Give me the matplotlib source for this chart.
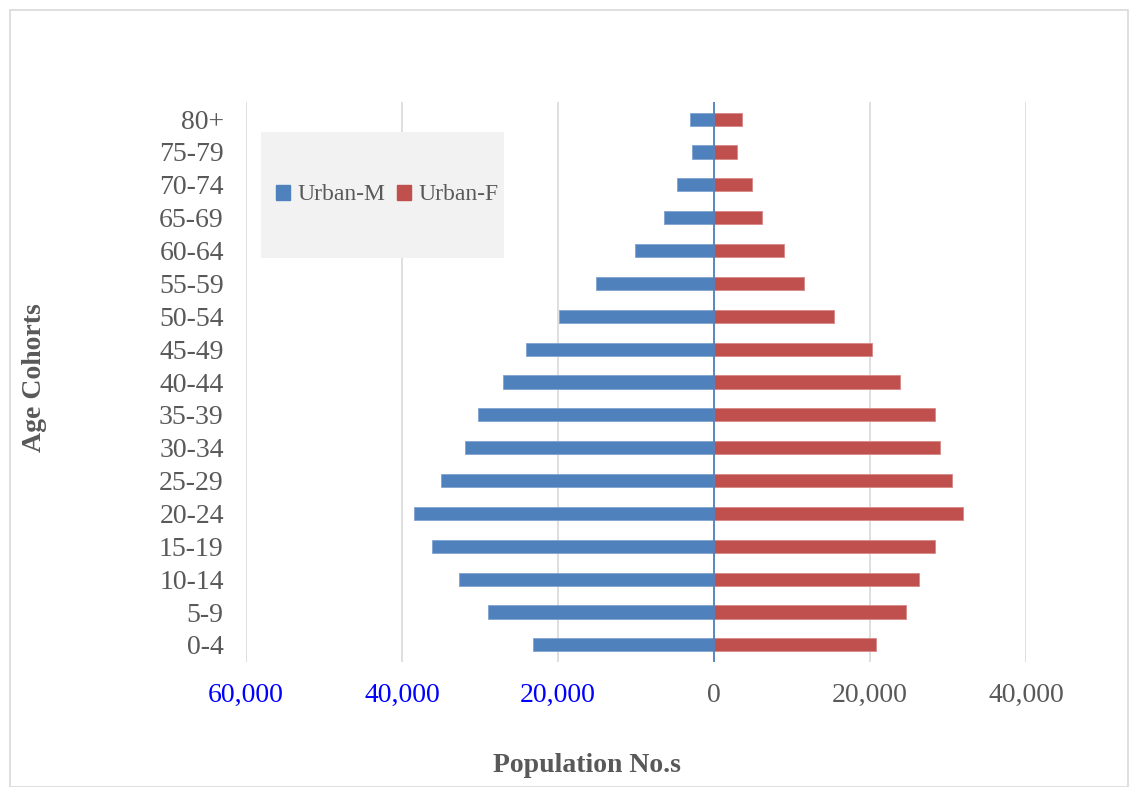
import matplotlib
matplotlib.use("Agg")
import matplotlib.pyplot as plt
from matplotlib.patches import Rectangle, Patch
import numpy as np

age_groups = ["0-4", "5-9", "10-14", "15-19", "20-24", "25-29", "30-34", "35-39",
              "40-44", "45-49", "50-54", "55-59", "60-64", "65-69", "70-74", "75-79", "80+"]
urban_m = [23200, 29000, 32700, 36200, 38500, 35000, 31900, 30300,
           27100, 24100, 19900, 15100, 10100, 6400, 4700, 2800, 3100]
urban_f = [20800, 24600, 26300, 28300, 31900, 30500, 29000, 28300,
           23800, 20300, 15400, 11500, 9000, 6200, 4900, 2900, 3600]
x_ticks = [-60000, -40000, -20000, 0, 20000, 40000]
x_tick_labels = ["60,000", "40,000", "20,000", "0", "20,000", "40,000"]

plt.rcParams['font.family'] = ['Liberation Serif', 'DejaVu Serif']

W, H = 1129, 787
fig = plt.figure(figsize=(W / 100, H / 100), dpi=100)
fig.patch.set_facecolor("white")

# outer chart border
fig.patches.append(Rectangle((10 / W, 0), (W - 11) / W, (H - 10) / H, transform=fig.transFigure,
                             fill=False, edgecolor="#D9D9D9", linewidth=1.2))

ax = fig.add_axes([246 / W, 1 - 662 / H, (1026 - 246) / W, (662 - 102) / H])
y = np.arange(len(age_groups))
blue = "#4F81BD"
red = "#C0504D"
ax.barh(y, [-v for v in urban_m], height=0.4, color=blue, edgecolor="#7FA3D0", linewidth=0.6, zorder=3)
ax.barh(y, urban_f, height=0.4, color=red, edgecolor="#D98886", linewidth=0.6, zorder=3)

ax.set_xlim(-60000, 40000)
ax.set_ylim(-0.52, 16.52)
ax.set_xticks(x_ticks)
ax.set_xticklabels(x_tick_labels)
for lab, v in zip(ax.get_xticklabels(), x_ticks):
    lab.set_color("#0000FF" if v < 0 else "#595959")
ax.set_yticks(y)
ax.set_yticklabels(age_groups, color="#595959")
ax.tick_params(axis="both", length=0, labelsize=20)
ax.tick_params(axis="x", pad=15)
ax.tick_params(axis="y", pad=16)
for s in ax.spines.values():
    s.set_visible(False)
ax.grid(axis="x", color="#D9D9D9", linewidth=1.2, zorder=0)
ax.axvline(0, color=blue, linewidth=1.3, zorder=4)

fig.text(587 / W, 1 - 766 / H, "Population No.s", fontsize=20, fontweight="bold",
         color="#595959", ha="center", va="center")
fig.text(35 / W, 1 - 378 / H, "Age Cohorts", rotation=90, fontsize=20, fontweight="bold",
         color="#595959", ha="center", va="center")

# legend background
fig.patches.append(Rectangle((261 / W, 1 - 258 / H), (504 - 261) / W, (258 - 132) / H,
                             transform=fig.transFigure, facecolor="#F2F2F2", edgecolor="none", zorder=1))
handles = [Patch(color=blue, label="Urban-M"), Patch(color=red, label="Urban-F")]
leg = fig.legend(handles=handles, loc="center", bbox_to_anchor=(387 / W, 1 - 195 / H), ncol=2,
                 frameon=False, fontsize=17, handlelength=0.6, handleheight=0.6,
                 handletextpad=0.3, columnspacing=0.5, labelcolor="#595959")

fig.savefig("out.png", dpi=100)
